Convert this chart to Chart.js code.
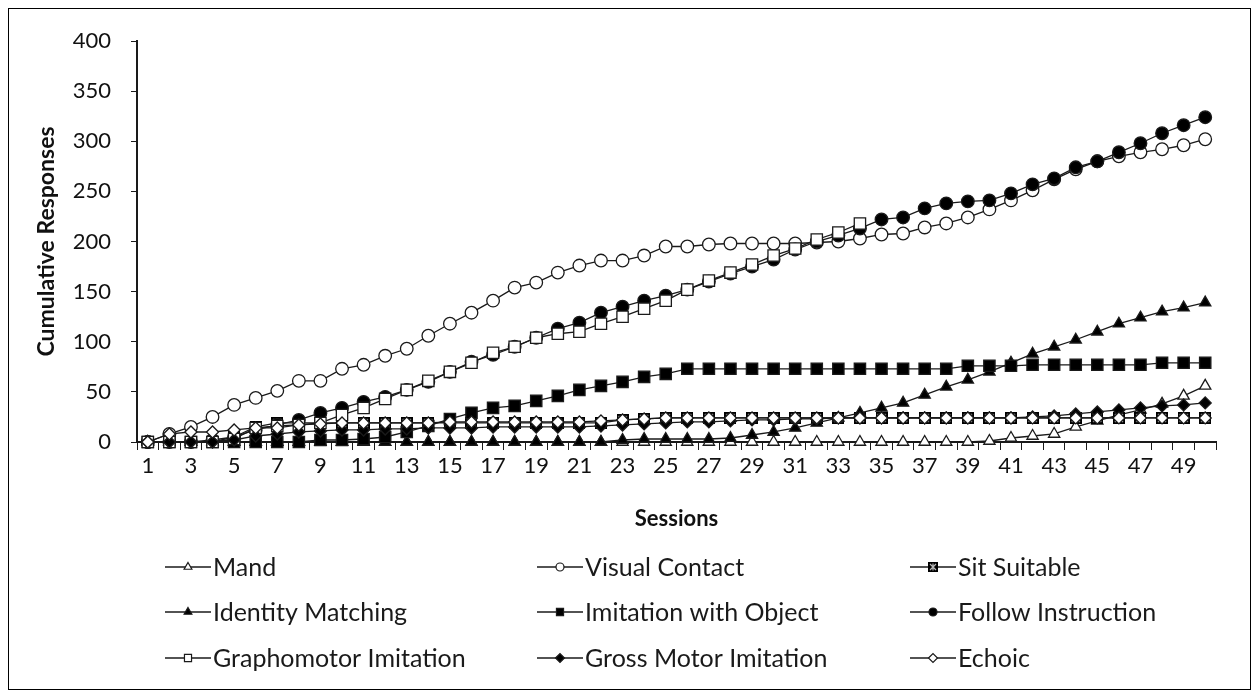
<!DOCTYPE html>
<html>
<head>
<meta charset="utf-8">
<script src="https://cdn.jsdelivr.net/npm/chart.js@4.4.1/dist/chart.umd.min.js"></script>
<style>
  html, body { margin: 0; padding: 0; background: #fff; }
</style>
</head>
<body>
<canvas id="chart" width="1260" height="696"></canvas>
<script>
// Sessions 1..50 on the x axis
const sessions = Array.from({ length: 50 }, (_, i) => String(i + 1));

const mand = [0,0,0,0,0,0,0,0,0,0, 0,0,0,0,0,0,0,0,0,0, 0,0,0,0,0,0,0,0,0,0,
  0,0,0,0,0,0,0,0,0,1, 4,6,8,15,21,27,32,38,46,56];
const visualContact = [0,8,15,25,37,44,51,61,61,73, 77,86,93,106,118,129,141,154,159,169,
  176,181,181,186,195,195,197,198,198,198, 198,199,200,203,207,208,214,218,224,232,
  241,251,262,272,280,285,289,292,296,302];
const sitSuitable = [0,0,0,0,5,15,19,19,19,19, 19,19,19,19,19,19,19,19,19,19,
  19,19,22,23,24,24,24,24,24,24, 24,24,24,24,24,24,24,24,24,24, 24,24,24,24,24,24,24,24,24,24];
const identityMatching = [0,0,0,0,0,0,0,0,0,0, 0,0,0,0,0,0,0,0,0,0,
  0,0,2,3,3,3,3,4,7,10, 14,19,24,29,34,39,47,55,62,70, 79,88,95,102,110,118,124,130,134,139];
const imitationObject = [0,0,0,0,0,0,0,0,2,2, 3,5,10,16,23,29,34,36,41,46,
  52,56,60,65,68,73,73,73,73,73, 73,73,73,73,73,73,73,73,76,76, 76,77,77,77,77,77,77,79,79,79];
const followInstruction = [0,0,0,2,5,12,17,22,29,34, 40,45,52,60,70,80,87,95,104,113,
  119,129,135,141,146,152,160,168,175,182, 192,200,206,213,222,224,233,238,240,241,
  248,257,263,274,280,289,298,308,316,324];
const graphomotor = [0,0,0,0,3,14,16,17,19,27, 34,43,52,61,70,79,89,95,104,108,
  110,118,125,133,141,152,161,169,177,186, 193,202,209,218,null,null,null,null,null,null,
  null,null,null,null,null,null,null,null,null,null];
const grossMotor = [0,0,0,0,2,6,8,10,11,12, 12,13,13,14,14,14,15,15,15,15,
  15,16,17,18,19,20,20,21,22,22, 23,23,24,24,24,24,24,24,24,24, 24,25,26,28,30,32,34,36,37,39];
const echoic = [0,8,10,10,12,14,14,17,18,19, 19,19,19,19,20,20,20,20,20,20,
  20,21,22,23,24,24,24,24,24,24, 24,24,24,24,24,24,24,24,24,24, 24,24,24,24,24,24,24,24,24,24];

const yTicks = [0, 50, 100, 150, 200, 250, 300, 350, 400];

const INK = '#1a1a1a';
const FONT = 'Lato, "Open Sans", sans-serif';

// checkered marker for "Sit Suitable"
function makeSitMarker(size) {
  const c = document.createElement('canvas');
  c.width = size; c.height = size;
  const g = c.getContext('2d');
  g.fillStyle = '#000';
  g.fillRect(0, 0, size, size);
  g.strokeStyle = '#b8b8b8';
  g.lineWidth = 1.2;
  g.beginPath();
  g.moveTo(2, 2); g.lineTo(size - 2, size - 2);
  g.moveTo(size - 2, 2); g.lineTo(2, size - 2);
  g.moveTo(size / 2, 1.5); g.lineTo(size / 2, size - 1.5);
  g.stroke();
  return c;
}
const sitMarker = makeSitMarker(12);
const sitMarkerSmall = makeSitMarker(10);

function series(label, data, style, fill, radius, legendStyle) {
  return {
    label,
    data,
    borderColor: INK,
    borderWidth: 1.3,
    pointStyle: style,
    pointRadius: radius,
    pointBorderColor: INK,
    pointBorderWidth: 1.3,
    pointBackgroundColor: fill,
    tension: 0,
    spanGaps: false,
    clip: false,
    legendStyle: legendStyle || style,
  };
}

const datasets = [
  series('Mand', mand, 'triangle', '#fff', 6.5),
  series('Visual Contact', visualContact, 'circle', '#fff', 6.3),
  series('Sit Suitable', sitSuitable, sitMarker, '#000', 6, sitMarkerSmall),
  series('Identity Matching', identityMatching, 'triangle', '#000', 6.5),
  series('Imitation with Object', imitationObject, 'rect', '#000', 8),
  series('Follow Instruction', followInstruction, 'circle', '#000', 6.3),
  series('Graphomotor Imitation', graphomotor, 'rect', '#fff', 8),
  series('Gross Motor Imitation', grossMotor, 'rectRot', '#000', 6),
  series('Echoic', echoic, 'rectRot', '#fff', 6),
];
// later series sit on top, as in the original
datasets.forEach((d, i) => { d.order = datasets.length - 1 - i; });

// frame + three-column legend below the axes
const gridLegend = {
  id: 'gridLegend',
  afterDraw(chart) {
    const ctx = chart.ctx;
    ctx.save();
    ctx.strokeStyle = '#000';
    ctx.lineWidth = 1;
    ctx.strokeRect(8.5, 8.5, 1242, 681);

    const colX = [165, 537, 910];
    const rowY = [567, 612, 658];
    const small = { triangle: 4.5, circle: 4, rect: 5, rectRot: 4.5 };
    chart.data.datasets.forEach((ds, i) => {
      const x = colX[i % 3];
      const y = rowY[Math.floor(i / 3)];
      ctx.strokeStyle = INK;
      ctx.lineWidth = 1.3;
      ctx.beginPath();
      ctx.moveTo(x, y); ctx.lineTo(x + 46, y);
      ctx.stroke();
      const st = ds.legendStyle;
      ctx.fillStyle = ds.pointBackgroundColor;
      ctx.strokeStyle = INK;
      ctx.lineWidth = 1.2;
      Chart.helpers.drawPoint(ctx, {
        pointStyle: st,
        radius: typeof st === 'string' ? small[st] : 5,
        rotation: 0,
        borderWidth: 1.2,
      }, x + 23, y);
      ctx.fillStyle = '#1a1a1a';
      ctx.font = '25px ' + FONT;
      ctx.textAlign = 'left';
      ctx.textBaseline = 'middle';
      ctx.fillText(ds.label, x + 48, y + 1);
    });
    ctx.restore();
  },
};

new Chart(document.getElementById('chart'), {
  type: 'line',
  data: { labels: sessions, datasets },
  plugins: [gridLegend],
  options: {
    responsive: false,
    animation: false,
    events: [],
    layout: { padding: { left: 0, top: 41, right: 44, bottom: 164 } },
    plugins: {
      legend: { display: false },
      title: { display: false },
      tooltip: { enabled: false },
    },
    scales: {
      x: {
        type: 'category',
        offset: true,
        afterFit: (s) => { s.height = 90; },
        grid: {
          offset: true,
          drawOnChartArea: false,
          drawTicks: true,
          tickLength: 8,
          color: INK,
          lineWidth: 1,
        },
        border: { display: true, color: INK, width: 2 },
        ticks: {
          autoSkip: false,
          maxRotation: 0,
          padding: 3,
          color: '#111',
          font: { family: FONT, size: 22 },
          callback: (v, i) => (i % 2 === 0 ? sessions[i] : ''),
        },
        title: {
          display: true,
          text: 'Sessions',
          color: '#111',
          font: { family: FONT, size: 22, weight: 'bold' },
          padding: { top: 4, bottom: 0 },
        },
      },
      y: {
        min: 0,
        max: 400,
        afterFit: (s) => { s.width = 137; },
        afterBuildTicks: (s) => { s.ticks = yTicks.map((v) => ({ value: v })); },
        grid: {
          drawOnChartArea: false,
          drawTicks: true,
          tickLength: 6,
          color: INK,
          lineWidth: 1,
        },
        border: { display: true, color: INK, width: 2 },
        ticks: {
          padding: 20,
          color: '#111',
          font: { family: FONT, size: 22 },
        },
        title: {
          display: true,
          text: 'Cumulative Responses',
          color: '#111',
          font: { family: FONT, size: 23, weight: 'bold' },
          padding: { top: 33, bottom: 0 },
        },
      },
    },
  },
});
</script>
</body>
</html>
